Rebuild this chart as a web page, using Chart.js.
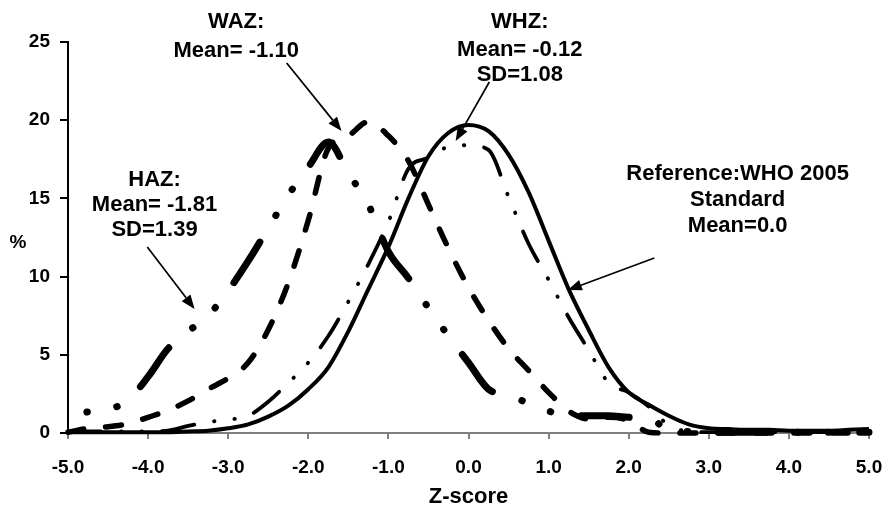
<!DOCTYPE html>
<html>
<head>
<meta charset="utf-8">
<script src="https://cdn.jsdelivr.net/npm/chart.js@4.4.1/dist/chart.umd.min.js"></script>
<style>
html,body{margin:0;padding:0;background:#ffffff;}
#wrap{width:883px;height:506px;position:relative;}
</style>
</head>
<body>
<div id="wrap"><canvas id="c" width="883" height="506"></canvas></div>
<script>
// ---- data ----
const zScores = [-5,-4.75,-4.5,-4.25,-4,-3.75,-3.5,-3.25,-3,-2.75,-2.5,-2.25,-2,-1.75,-1.5,-1.25,-1,-0.75,-0.5,-0.25,0,0.25,0.5,0.75,1,1.25,1.5,1.75,2,2.25,2.5,2.75,3,3.25,3.5,3.75,4,4.25,4.5,4.75,5];
const refWHO = [0.05,0.05,0.05,0.05,0.05,0.05,0.1,0.15,0.3,0.55,1.05,1.75,2.8,4.2,6.5,9.2,11.9,15.0,17.7,19.2,19.7,19.3,17.8,15.4,12.3,9.2,6.6,4.2,2.6,1.8,1.1,0.55,0.3,0.25,0.2,0.2,0.15,0.15,0.15,0.2,0.25];
const whz    = [0.1,0.1,0.1,0.1,0.1,0.15,0.45,0.7,0.85,1.1,2.0,3.2,4.5,6.2,8.4,10.8,13.5,16.9,17.6,18.3,18.4,18.1,15.1,12.1,9.8,7.4,5.3,3.2,2.6,1.7,0.5,0.1,0.05,0.05,0.05,0.05,0.05,0.05,0.05,0.05,0.05];
const waz    = [0.05,0.3,0.4,0.6,1.0,1.45,2.05,2.8,3.5,4.5,6.6,9.6,13.6,18.2,19.0,19.9,19.0,17.4,14.6,11.8,9.3,7.2,5.4,4.0,2.6,1.4,0.9,1.0,0.8,0.05,0,0,0,0,0,0,0,0,0,0,0];
const haz    = [1.2,1.35,1.5,2.1,3.6,5.4,6.5,7.5,9.1,11.0,13.1,15.2,17.0,18.6,16.6,14.6,11.6,9.9,8.0,6.2,4.5,2.8,2.4,1.9,1.4,1.1,1.1,1.1,1.0,0.95,0.2,0.1,0.05,0.05,0.05,0.05,0.05,0.05,0.05,0.05,0.05];
const xTickValues = [-5,-4,-3,-2,-1,0,1,2,3,4,5];
const yTickValues = [0,5,10,15,20,25];
const xAxisTitle = 'Z-score';
const yAxisTitle = '%';

// ---- annotation texts and arrows (anchored in data units) ----
const noteLines = [
  {text:'WAZ:', z:-2.90, v:26.28},
  {text:'Mean= -1.10', z:-2.90, v:24.42},
  {text:'HAZ:', z:-3.92, v:16.18},
  {text:'Mean= -1.81', z:-3.92, v:14.58},
  {text:'SD=1.39', z:-3.92, v:12.98},
  {text:'WHZ:', z:0.64, v:26.28},
  {text:'Mean= -0.12', z:0.64, v:24.49},
  {text:'SD=1.08', z:0.64, v:22.89},
  {text:'Reference:WHO 2005', z:3.36, v:16.56},
  {text:'Standard', z:3.36, v:14.90},
  {text:'Mean=0.0', z:3.36, v:13.24}
];
const noteArrows = [
  {from:[-2.27,23.66], to:[-1.585,19.31]},
  {from:[-4.01,11.89], to:[-3.42,7.93]},
  {from:[0.26,22.44],  to:[-0.16,18.67]},
  {from:[2.32,11.19],  to:[1.24,9.14]}
];

const toPoints = arr => zScores.map((z,i) => ({x:z, y:arr[i]}));

const notesPlugin = {
  id:'notes',
  afterDraw(chart){
    const ctx = chart.ctx, xs = chart.scales.x, ys = chart.scales.y;
    ctx.save();
    ctx.fillStyle = '#000';
    ctx.strokeStyle = '#000';
    ctx.font = 'bold 22px "Liberation Sans", Arial, sans-serif';
    ctx.textAlign = 'center';
    ctx.textBaseline = 'middle';
    noteLines.forEach(n => ctx.fillText(n.text, xs.getPixelForValue(n.z), ys.getPixelForValue(n.v)));
    // "%" axis label
    ctx.font = 'bold 19px "Liberation Sans", Arial, sans-serif';
    ctx.fillText(yAxisTitle, ys.left + 18, ys.getPixelForValue(12.15));
    ctx.lineWidth = 1.7;
    noteArrows.forEach(a => {
      const x1 = xs.getPixelForValue(a.from[0]), y1 = ys.getPixelForValue(a.from[1]);
      const x2 = xs.getPixelForValue(a.to[0]),   y2 = ys.getPixelForValue(a.to[1]);
      const ang = Math.atan2(y2-y1, x2-x1);
      const L = 14, W = 5.5;
      const bx = x2 - L*Math.cos(ang), by = y2 - L*Math.sin(ang);
      ctx.beginPath(); ctx.moveTo(x1,y1); ctx.lineTo(bx,by); ctx.stroke();
      ctx.beginPath();
      ctx.moveTo(x2,y2);
      ctx.lineTo(bx + W*Math.sin(ang), by - W*Math.cos(ang));
      ctx.lineTo(bx - W*Math.sin(ang), by + W*Math.cos(ang));
      ctx.closePath(); ctx.fill();
    });
    ctx.restore();
  }
};

const tickFont = {family:'"Liberation Sans", Arial, sans-serif', size:19, weight:'bold'};

new Chart(document.getElementById('c'), {
  type:'line',
  data:{
    datasets:[
      {label:'Reference WHO 2005', data:toPoints(refWHO), borderColor:'#000', borderWidth:4, pointRadius:0, fill:false, cubicInterpolationMode:'monotone', clip:false},
      {label:'WHZ', data:toPoints(whz), borderColor:'#000', borderWidth:3.8, borderDash:[33,20,0.5,20,0.5,20], borderCapStyle:'round', pointRadius:0, fill:false, cubicInterpolationMode:'monotone', clip:false},
      {label:'WAZ', data:toPoints(waz), borderColor:'#000', borderWidth:5.5, borderDash:[16,22], borderCapStyle:'round', pointRadius:0, fill:false, cubicInterpolationMode:'monotone', clip:false},
      {label:'HAZ', data:toPoints(haz), borderColor:'#000', borderWidth:7, borderDash:[48,31,0.5,30,0.5,31], borderDashOffset:60, borderCapStyle:'round', pointRadius:0, fill:false, cubicInterpolationMode:'monotone', clip:false}
    ]
  },
  options:{
    responsive:false,
    animation:false,
    devicePixelRatio:1,
    layout:{padding:{left:0, top:42, right:0, bottom:0}},
    plugins:{legend:{display:false}, tooltip:{enabled:false}, title:{display:false}},
    scales:{
      x:{
        type:'linear', min:-5, max:5,
        afterBuildTicks: s => { s.ticks = xTickValues.map(v => ({value:v})); },
        afterFit: s => { s.height = 73; s.paddingRight = 14; s.paddingLeft = 0; },
        border:{display:true, color:'#808080', width:2},
        grid:{drawOnChartArea:false, drawTicks:true, tickLength:6, color:'#808080', lineWidth:2},
        ticks:{color:'#000', font:tickFont, padding:17, maxRotation:0, autoSkip:false, callback: v => Number(v).toFixed(1)},
        title:{display:true, text:xAxisTitle, color:'#000', font:{family:'"Liberation Sans", Arial, sans-serif', size:22, weight:'bold', lineHeight:0.8}, padding:0}
      },
      y:{
        type:'linear', min:0, max:25,
        afterBuildTicks: s => { s.ticks = yTickValues.map(v => ({value:v})); },
        afterFit: s => { s.width = 68; },
        border:{display:true, color:'#000', width:2},
        grid:{drawOnChartArea:false, drawTicks:true, tickLength:8, color:'#000', lineWidth:2},
        ticks:{color:'#000', font:tickFont, padding:10}
      }
    }
  },
  plugins:[notesPlugin]
});
</script>
</body>
</html>
